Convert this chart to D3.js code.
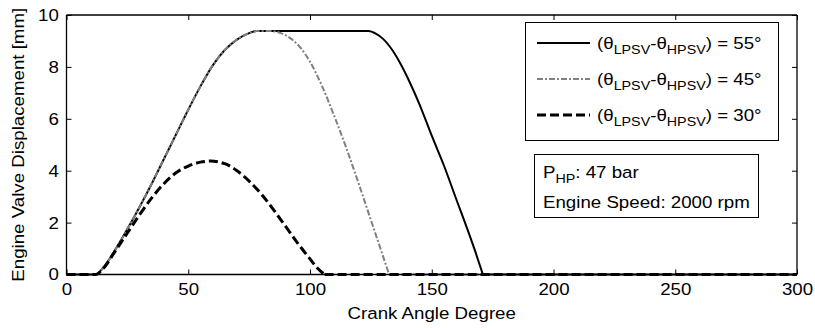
<!DOCTYPE html>
<html>
<head>
<meta charset="utf-8">
<script src="https://cdn.jsdelivr.net/npm/d3@7"></script>
<style>
  html, body { margin: 0; padding: 0; background: #fff; }
  svg text { font-family: "Liberation Sans", Arial, Helvetica, sans-serif; fill: #000; }
</style>
</head>
<body>
<svg id="chart" width="815" height="328"></svg>
<script>
// ---- data ----
const xTicks = [0, 50, 100, 150, 200, 250, 300];
const yTicks = [0, 2, 4, 6, 8, 10];

const crank55 = [0, 12, 15, 20, 25, 30, 35, 40, 45, 50, 55, 60, 65, 70, 75, 78, 124, 127, 130, 134, 137, 141, 145, 150, 155, 160, 165, 168, 171, 300];
const lift55  = [0, 0, 0.25, 0.95, 1.75, 2.6, 3.5, 4.45, 5.4, 6.35, 7.25, 8.05, 8.65, 9.05, 9.3, 9.38, 9.38, 9.28, 9.08, 8.62, 8.15, 7.4, 6.55, 5.35, 4.2, 2.92, 1.65, 0.85, 0, 0];

const crank45 = [0, 12, 15, 20, 25, 30, 35, 40, 45, 50, 55, 60, 65, 70, 75, 78, 84, 88, 92, 96, 100, 105, 110, 115, 120, 125, 129, 132.5, 300];
const lift45  = [0, 0, 0.25, 0.95, 1.75, 2.6, 3.5, 4.45, 5.4, 6.35, 7.25, 8.05, 8.65, 9.05, 9.3, 9.38, 9.38, 9.3, 9.1, 8.75, 8.2, 7.25, 6.1, 4.85, 3.5, 2.1, 0.98, 0, 0];

const crank30 = [0, 12, 15, 20, 25, 30, 35, 40, 45, 50, 55, 59, 65, 70, 75, 80, 85, 90, 95, 100, 103, 106, 300];
const lift30  = [0, 0, 0.22, 0.9, 1.6, 2.3, 2.95, 3.5, 3.92, 4.18, 4.33, 4.37, 4.27, 4.0, 3.6, 3.1, 2.5, 1.85, 1.2, 0.6, 0.25, 0, 0];

const legendValues = ["55", "45", "30"];
const annotationPressure = "47 bar";
const annotationSpeed = "Engine Speed: 2000 rpm";

// ---- layout ----
const svg = d3.select("#chart");
const pL = 66.5, pR = 797, pT = 15, pB = 274.5;
const x = d3.scaleLinear().domain([0, 300]).range([pL, pR]);
const y = d3.scaleLinear().domain([0, 10]).range([pB, pT]);
const FS = 17, SX = 1.1;

// ---- lines ----
const zip = (a, b) => a.map((v, i) => [v, b[i]]);
const curveLine = d3.line().x(d => x(d[0])).y(d => y(d[1])).curve(d3.curveMonotoneX);
const flatLine = d3.line().x(d => x(d[0])).y(d => y(d[1]));

function pathFor(pts) {
  // lift event drawn smoothly; trailing closed-valve stretch drawn straight
  let last = pts.length - 1;
  while (last > 0 && pts[last - 1][1] === 0) last--;
  return curveLine(pts.slice(0, last + 1)) + flatLine(pts.slice(last));
}

const series = [
  { data: zip(crank55, lift55), stroke: "#000", width: 2, dash: null, label: legendValues[0] },
  { data: zip(crank45, lift45), stroke: "#808080", width: 2, dash: "6,2,2,2", label: legendValues[1] },
  { data: zip(crank30, lift30), stroke: "#000", width: 3, dash: "9,4", label: legendValues[2] }
];

const plot = svg.append("g");
series.forEach(s => {
  plot.append("path")
    .attr("d", pathFor(s.data))
    .attr("fill", "none")
    .attr("stroke", s.stroke)
    .attr("stroke-width", s.width)
    .attr("stroke-dasharray", s.dash);
});

// ---- axes (box with inward ticks) ----
const tickLen = 5;
const axB = svg.append("g").attr("transform", `translate(0,${pB})`)
  .call(d3.axisBottom(x).tickValues(xTicks).tickSize(-tickLen).tickPadding(8));
const axT = svg.append("g").attr("transform", `translate(0,${pT})`)
  .call(d3.axisTop(x).tickValues(xTicks).tickSize(-tickLen).tickFormat(""));
const axL = svg.append("g").attr("transform", `translate(${pL},0)`)
  .call(d3.axisLeft(y).tickValues(yTicks).tickSize(-tickLen).tickPadding(7));
const axR = svg.append("g").attr("transform", `translate(${pR},0)`)
  .call(d3.axisRight(y).tickValues(yTicks).tickSize(-tickLen).tickFormat(""));

[axB, axT, axL, axR].forEach(a => {
  a.select(".domain").attr("stroke", "#000").attr("stroke-width", 1.3);
  a.selectAll(".tick line").attr("stroke", "#000");
  a.selectAll("text").style("font-size", FS + "px")
    .style("font-family", '"Liberation Sans", Arial, sans-serif')
    .attr("transform", `scale(${SX},1)`);
});
axB.select(".domain").attr("d", `M${pL},0H${pR}`);
axT.select(".domain").attr("d", `M${pL},0H${pR}`);
axL.select(".domain").attr("d", `M0,${pT}V${pB}`);
axR.select(".domain").attr("d", `M0,${pT}V${pB}`);

// helper: text with slight horizontal stretch
function label(parent, tx, ty, extra) {
  return parent.append("text")
    .attr("transform", `translate(${tx},${ty}) ${extra || ""} scale(${SX},1)`)
    .style("font-size", FS + "px");
}

// axis titles
label(svg, (pL + pR) / 2, 319).attr("text-anchor", "middle").text("Crank Angle Degree");
label(svg, 24, (pT + pB) / 2, "rotate(-90)").attr("text-anchor", "middle").text("Engine Valve Displacement [mm]");

// ---- legend ----
const lg = svg.append("g");
lg.append("rect").attr("x", 525.5).attr("y", 22.5).attr("width", 253).attr("height", 118)
  .attr("fill", "#fff").attr("stroke", "#000").attr("stroke-width", 1);
const rowY = [43, 79, 115];
series.forEach((s, i) => {
  lg.append("line").attr("x1", 537).attr("x2", 590).attr("y1", rowY[i]).attr("y2", rowY[i])
    .attr("stroke", s.stroke).attr("stroke-width", s.width).attr("stroke-dasharray", s.dash);
  const t = label(lg, 597, rowY[i] + 6);
  t.append("tspan").text("(θ");
  t.append("tspan").attr("dy", 5).style("font-size", "13px").text("LPSV");
  t.append("tspan").attr("dy", -5).text("-θ");
  t.append("tspan").attr("dy", 5).style("font-size", "13px").text("HPSV");
  t.append("tspan").attr("dy", -5).text(") = " + s.label + "°");
});

// ---- annotation box ----
const an = svg.append("g");
an.append("rect").attr("x", 534.5).attr("y", 154.5).attr("width", 224).attr("height", 63)
  .attr("fill", "#fff").attr("stroke", "#000").attr("stroke-width", 1);
const a1 = label(an, 543, 178);
a1.append("tspan").text("P");
a1.append("tspan").attr("dy", 5).style("font-size", "13px").text("HP");
a1.append("tspan").attr("dy", -5).text(": " + annotationPressure);
label(an, 543, 208).text(annotationSpeed);
</script>
</body>
</html>
